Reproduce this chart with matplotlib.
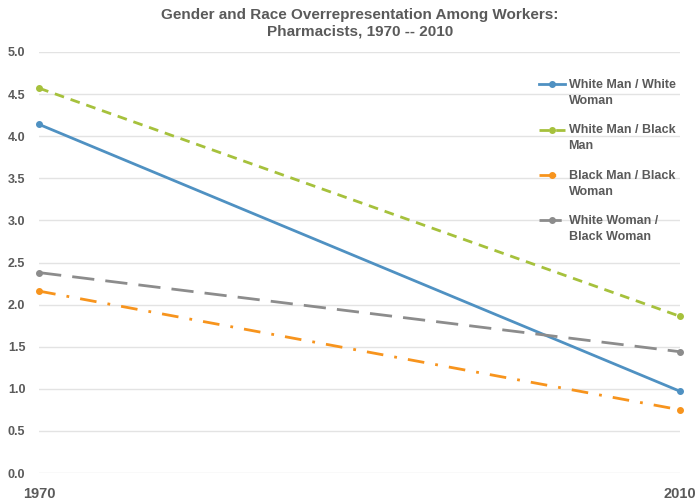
import matplotlib
matplotlib.use("Agg")
import matplotlib.pyplot as plt
from matplotlib.legend_handler import HandlerLine2D

plt.rcParams["font.family"] = ["Liberation Sans", "DejaVu Sans"]

years = [1970, 2010]
wm_ww = [4.14, 0.97]   # White Man / White Woman
wm_bm = [4.57, 1.86]   # White Man / Black Man
bm_bw = [2.16, 0.75]   # Black Man / Black Woman
ww_bw = [2.38, 1.44]   # White Woman / Black Woman
labels = ["White Man / White\nWoman", "White Man / Black\nMan",
          "Black Man / Black\nWoman", "White Woman /\nBlack Woman"]
yticks = [0.0, 0.5, 1.0, 1.5, 2.0, 2.5, 3.0, 3.5, 4.0, 4.5, 5.0]

TXT = "#5a5a5a"
LEG_FS = 9


class FirstLineHandler(HandlerLine2D):
    # keep the legend key level with the first line of a wrapped label
    def create_artists(self, legend, orig, xdescent, ydescent, width, height,
                       fontsize, trans):
        arts = super().create_artists(legend, orig, xdescent, ydescent, width,
                                      height, fontsize, trans)
        for a in arts:
            a.set_ydata([y + 0.72 * fontsize for y in a.get_ydata()])
        return arts


fig = plt.figure(figsize=(6.99, 5.0), dpi=100)
ax = fig.add_axes([0.056, 0.054, 0.917, 0.842])

styles = [
    dict(color="#4f91c2", linestyle="-"),
    dict(color="#a6c13c", linestyle=(0, (3.5, 2.5))),
    dict(color="#f7941d", linestyle=(0, (6, 4, 1, 4))),
    dict(color="#8c8c8c", linestyle=(0, (8, 4))),
]
series = [wm_ww, wm_bm, bm_bw, ww_bw]
handles = []
for vals, st, lab in zip(series, styles, labels):
    h, = ax.plot(years, vals, lw=2, marker="o", ms=4, clip_on=False,
                 label=lab, zorder=3, **st)
    handles.append(h)

ax.set_xlim(1970, 2010)
ax.set_ylim(0, 5)
ax.set_yticks(yticks)
ax.set_yticklabels([f"{v:.1f}" for v in yticks])
ax.set_xticks(years)
ax.set_xticklabels([str(y) for y in years])
ax.grid(axis="y", color="#e3e3e3", lw=1)
ax.set_axisbelow(True)
for s in ax.spines.values():
    s.set_visible(False)
ax.tick_params(length=0)
ax.tick_params(axis="y", pad=10, labelsize=9, labelcolor=TXT)
ax.tick_params(axis="x", pad=10, labelsize=10.5, labelcolor=TXT)
for t in ax.get_yticklabels() + ax.get_xticklabels():
    t.set_fontweight("bold")

leg = ax.legend(handles=handles, loc="upper left", bbox_to_anchor=(0.7615, 0.962),
                frameon=False, prop=dict(size=LEG_FS, weight="bold"),
                labelspacing=1.37, handlelength=2.15, handletextpad=0.25,
                handler_map={h: FirstLineHandler() for h in handles})
for t in leg.get_texts():
    t.set_color(TXT)
    t.set_linespacing(1.45)

ax.set_title("Gender and Race Overrepresentation Among Workers:\nPharmacists, 1970 -- 2010",
             fontsize=11, fontweight="bold", color=TXT, pad=12)

fig.savefig("out.png", dpi=100)
